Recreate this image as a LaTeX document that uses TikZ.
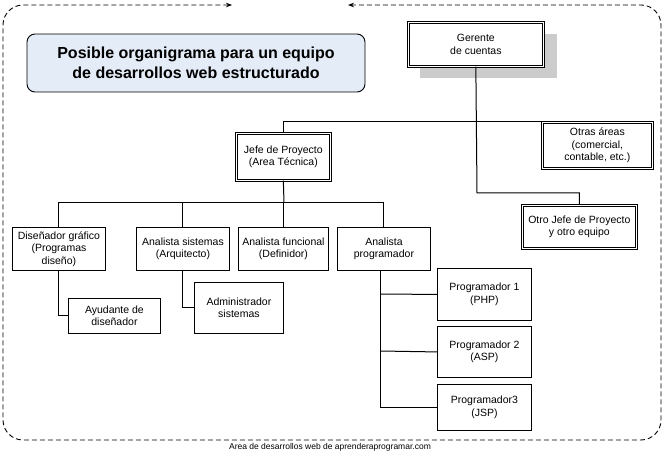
\documentclass[tikz,border=0pt]{standalone}
\usepackage{fontspec}
\setmainfont{Liberation Sans}
\usetikzlibrary{positioning,arrows.meta}
\definecolor{titlefill}{RGB}{228,236,247}
\begin{document}
\begin{tikzpicture}[x=1pt, y=-1pt,
  box/.style={draw, line width=0.9pt, fill=white, align=center, font=\fontsize{10.5}{12.5}\selectfont, inner sep=1pt},
  dbox/.style={box, double, line width=0.7pt, double distance=1.6pt},
  link/.style={draw, line width=1pt}]
\useasboundingbox (0,0) rectangle (665,454);
% border
\draw[dashed, dash pattern=on 5pt off 3pt, line width=0.9pt, rounded corners=20pt, {Stealth[length=6pt]}-{Stealth[length=6pt]}]
  (232,5) -- (3,5) -- (3,440) -- (661,440) -- (661,5) -- (348,5);
% title
\node[draw, line width=0.9pt, rounded corners=8pt, fill=titlefill, minimum width=338pt, minimum height=58pt, align=center,
  font=\fontsize{16}{20}\selectfont\bfseries] (title) at (196,63) {Posible organigrama para un equipo\\de desarrollos web estructurado};
% top
\fill[gray!40] (420,34) rectangle (557,78);
\node[dbox, minimum width=135pt, minimum height=44pt, anchor=north west] (gerente) at (408,22) {Gerente\\de cuentas};
\node[dbox, minimum width=94pt, minimum height=47pt, anchor=north west] (jefe) at (236,133) {Jefe de Proyecto\\(Area Técnica)};
\node[dbox, minimum width=110pt, minimum height=46pt, anchor=north west] (otras) at (542,122) {Otras áreas\\(comercial,\\contable, etc.)};
\node[dbox, minimum width=114pt, minimum height=43pt, anchor=north west] (otro) at (522,205) {Otro Jefe de Proyecto\\y otro equipo};
% level 3
\node[box, minimum width=93pt, minimum height=43pt, anchor=north west] (disenador) at (12,227) {Diseñador gráfico\\(Programas\\diseño)};
\node[box, minimum width=93pt, minimum height=43pt, anchor=north west] (sistemas) at (136,227) {Analista sistemas\\(Arquitecto)};
\node[box, minimum width=90pt, minimum height=43pt, anchor=north west] (funcional) at (238,227) {Analista funcional\\(Definidor)};
\node[box, minimum width=93pt, minimum height=43pt, anchor=north west] (analista) at (337,227) {Analista\\programador};
\node[box, minimum width=92pt, minimum height=35pt, anchor=north west] (ayudante) at (68,298) {Ayudante de\\diseñador};
\node[box, minimum width=89pt, minimum height=51pt, anchor=north west] (admin) at (194,282) {Administrador\\sistemas};
\node[box, minimum width=94pt, minimum height=52pt, anchor=north west] (prog1) at (437,268) {Programador 1\\(PHP)};
\node[box, minimum width=94pt, minimum height=51pt, anchor=north west] (prog2) at (437,326) {Programador 2\\(ASP)};
\node[box, minimum width=94pt, minimum height=46pt, anchor=north west] (prog3) at (437,384) {Programador3\\(JSP)};
% connectors
\draw[link] (gerente.south) -- (477,193) -| (otro.north);
\draw[link] (jefe.north) |- (otras.north);
\draw[link] (jefe.south) -- (284,203);
\draw[link] (disenador.north) |- (analista.north |- 0,203) -- (analista.north);
\draw[link] (sistemas.north) -- (sistemas.north |- 0,203);
\draw[link] (funcional.north) -- (funcional.north |- 0,203);
\draw[link] (disenador.south) |- (ayudante.west);
\draw[link] (182,270) |- (admin.west);
\draw[link] (380,270) |- (prog3.west);
\draw[link] (380,294) -- (prog1.west);
\draw[link] (380,351) -- (prog2.west);
\node[font=\fontsize{8.5}{10}\selectfont] (footer) at (330,447) {Area de desarrollos web de aprenderaprogramar.com};
\end{tikzpicture}
\end{document}
